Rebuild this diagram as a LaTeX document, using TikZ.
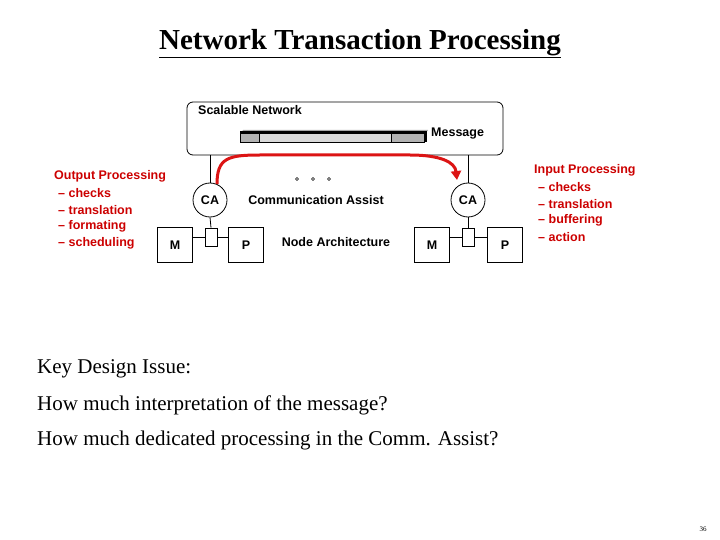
\documentclass[tikz,border=0pt]{standalone}
\usepackage{fontspec}
\setmainfont{Liberation Serif}
\newfontfamily\arialf{Liberation Sans}
\usetikzlibrary{arrows.meta}
\begin{document}
\begin{tikzpicture}[x=1pt,y=-1pt,
  lab/.style={font=\arialf\bfseries\fontsize{12.5}{14}\selectfont,inner sep=0pt},
  red/.style={lab,text={rgb,255:red,204;green,0;blue,0},anchor=west,align=left},
  box/.style={draw,thick,minimum width=35pt,minimum height=35pt,inner sep=0pt,lab},
  stub/.style={draw,thick,minimum width=12pt,minimum height=18pt,inner sep=0pt},
  ca/.style={draw,thick,circle,minimum size=34pt,inner sep=0pt,lab},
  big/.style={font=\fontsize{21}{25}\selectfont,anchor=west,inner sep=0pt}]
\useasboundingbox (0,0) rectangle (720,540);
\node[font=\bfseries\fontsize{29}{33}\selectfont,inner sep=0pt] (title) at (360,44) {\underline{Network Transaction Processing}};
\draw[thick,rounded corners=6pt] (187,102) rectangle (503,155);
\node[lab,anchor=west] (sn) at (198,110) {Scalable Network};
\node[lab,anchor=west] (msg) at (431,134) {Message};
\fill[gray!70] (243,130) -- (428,130) -- (426,133) -- (241,133) -- cycle;
\draw[fill=gray!60] (240,133) rectangle (259,142);
\draw[fill=gray!30] (259,133) rectangle (391,142);
\draw[fill=gray!60] (391,133) rectangle (424,142);
\draw[very thick] (240,132) -- (426,132) -- (426,142);
\node[ca] (ca1) at (210,200) {CA};
\node[ca] (ca2) at (468,200) {CA};
\node[stub] (s1) at (211,237) {};
\node[stub] (s2) at (468,237) {};
\node[box] (m1) at (175,245) {M};
\node[box] (p1) at (246,245) {P};
\node[box] (m2) at (432,245) {M};
\node[box] (p2) at (505,245) {P};
\coordinate (n1) at (210,155);
\coordinate (n2) at (468,155);
\draw[thick] (n1) -- (ca1.north);
\draw[thick] (n2) -- (ca2.north);
\draw[thick] (ca1.south) -- (s1.north);
\draw[thick] (ca2.south) -- (s2.north);
\draw[thick] (m1.east|-s1) -- (s1.west);
\draw[thick] (s1.east) -- (p1.west|-s1);
\draw[thick] (m2.east|-s2) -- (s2.west);
\draw[thick] (s2.east) -- (p2.west|-s2);
\coordinate (a1) at (217,184);
\coordinate (a2) at (457,180);
\draw[line width=3pt,color={rgb,255:red,220;green,20;blue,20},-{Triangle[length=9pt,width=10pt]}]
  (a1) .. controls (217,158) and (228,155) .. (260,155) -- (410,155) .. controls (440,155) and (455,162) .. (a2);
\node[lab] (ca) at (316,200) {Communication Assist};
\node[lab] (na) at (336,242) {Node Architecture};
\foreach \x in {297,313,329} \draw (\x,179) circle (1.5pt);
\node[red] (op) at (54,176) {Output Processing};
\node[red] (op1) at (58,193) {\textendash{} checks};
\node[red] (op2) at (58,210) {\textendash{} translation};
\node[red] (op3) at (58,226) {\textendash{} formating};
\node[red] (op4) at (58,243) {\textendash{} scheduling};
\node[red] (ip) at (534,170) {Input Processing};
\node[red] (ip1) at (538,187) {\textendash{} checks};
\node[red] (ip2) at (538,204) {\textendash{} translation};
\node[red] (ip3) at (538,220) {\textendash{} buffering};
\node[red] (ip4) at (538,237) {\textendash{} action};
\node[big] (k1) at (37,369) {Key Design Issue:};
\node[big] (k2) at (37,405) {How much interpretation of the message?};
\node[big] (k3) at (37,440) {How much dedicated processing in the Comm. Assist?};
\node[font=\fontsize{7}{8}\selectfont,inner sep=0pt] (pg) at (703,529) {36};
\end{tikzpicture}
\end{document}
